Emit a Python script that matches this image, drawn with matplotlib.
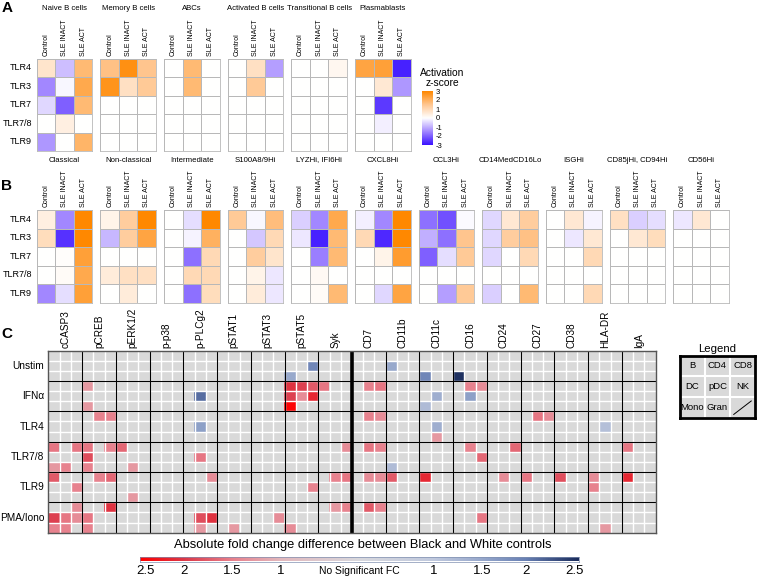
import matplotlib as mpl
mpl.use('agg')
import matplotlib.pyplot as plt
import numpy as np
from matplotlib.colors import LinearSegmentedColormap, to_rgb

plt.rcParams['font.family'] = ['Liberation Sans', 'DejaVu Sans']

W, H = 757, 578

# ---- panel A / B data ----
tlr_rows = ['TLR4', 'TLR3', 'TLR7', 'TLR7/8', 'TLR9']
groups = ['Control', 'SLE INACT', 'SLE ACT']

a_titles = ['Naive B cells', 'Memory B cells', 'ABCs', 'Activated B cells',
            'Transitional B cells', 'Plasmablasts']
a_scores = [
    [[0.7, -0.8, 1.8], [-1.5, -0.1, 2.2], [-0.5, -2.0, 1.8], [0, 0.4, 0], [-1.3, 0, 1.9]],
    [[1.6, 2.8, 1.5], [2.7, 0.8, 1.4], [0, 0, 0], [0, 0, 0], [0, 0, 0]],
    [[0, 1.8, 0], [0, 1.8, 0], [0, 0, 0], [0, 0, 0], [0, 0, 0]],
    [[0, 0.8, -1.2], [0, 1.4, 0], [0, 0, 0], [0, 0, 0], [0, 0, 0]],
    [[0, 0, 0.2], [0, 0, 0], [0, 0, 0], [0, 0, 0], [0, 0, 0]],
    [[2.3, 2.4, -2.8], [0, 0.6, -1.3], [0, -2.5, 0], [0, -0.2, 0], [0, 0, 0]],
]

b_titles = ['Classical', 'Non-classical', 'Intermediate', 'S100A8/9Hi', 'LYZHi, IFI6Hi',
            'CXCL8Hi', 'CCL3Hi', 'CD14MedCD16Lo', 'ISGHi', 'CD85jHi, CD94Hi', 'CD56Hi']
b_scores = [
    [[0.4, -1.5, 3], [0.9, -2.6, 3], [0, 0.05, 2.4], [0, 0.1, 2.2], [-1.5, -0.4, 2.4]],
    [[0.3, 1.3, 3], [-0.9, 1.3, 2.3], [0, 0, 0], [0.5, 0.8, 0.8], [0, 0.5, 0]],
    [[0, -0.4, 3], [0, -0.15, 2.0], [0, -1.8, 1.0], [0, 1.0, 1.0], [0, -1.8, 0.9]],
    [[1.4, -0.1, 1.7], [0, -0.7, 1.0], [0, 1.3, 0.7], [0, 0.3, -0.3], [0, 0.5, -0.3]],
    [[-0.6, -1.5, 2.2], [-0.3, -2.8, 1.8], [0, -1.6, 1.8], [0, 0.15, 0], [0, 0.1, 1.8]],
    [[-0.2, -1.5, 3], [1.0, -2.7, 3], [0, 0.3, 2.5], [0, 0, 0], [0, -0.5, 2.3]],
    [[-1.8, -2.2, -0.05], [-1.0, -1.8, 1.5], [-2.0, -0.4, 1.4], [0, 0, 0], [0, -1.2, 1.4]],
    [[-0.5, 0.6, 1.3], [-0.5, 1.3, 1.6], [-0.5, 0, 1.0], [0, 0, 0], [-0.6, 0, 1.8]],
    [[0, 0.6, -0.15], [0, -0.3, 0.6], [0, 0, 1.0], [0, 0, 0], [0, 0, 1.0]],
    [[0.8, -0.6, -0.4], [0, 0.6, 0.9], [0, 0, 0], [0, 0, 0], [0, 0, 0]],
    [[-0.3, 0.6, 0], [0, 0, 0], [0, 0, 0], [0, 0, 0], [0, 0, 0]],
]
z_ticks = [3, 2, 1, 0, -1, -2, -3]

# ---- panel C data ----
markers = ['cCASP3', 'pCREB', 'pERK1/2', 'p-p38', 'p-PLCg2', 'pSTAT1', 'pSTAT3',
           'pSTAT5', 'Syk', 'CD7', 'CD11b', 'CD11c', 'CD16', 'CD24', 'CD27', 'CD38',
           'HLA-DR', 'IgA']
stims = ['Unstim', 'IFN\u03b1', 'TLR4', 'TLR7/8', 'TLR9', 'PMA/Iono']
legend_cells = ['B', 'CD4', 'CD8', 'DC', 'pDC', 'NK', 'Mono', 'Gran', '']
# significant cells: row, column, fold change (+ red side, - blue side)
c_row = [1, 1,
         2, 2, 2,
         3, 3, 3, 3, 3, 3, 3, 3, 3,
         4, 4, 4, 4, 4, 4,
         5, 5, 5,
         6, 6, 6, 6, 6, 6,
         7, 7, 7,
         8,
         9, 9, 9, 9, 9, 9, 9, 9, 9, 9, 9,
         10, 10, 10,
         11, 11, 11, 11, 11,
         12, 12, 12, 12, 12, 12, 12, 12, 12, 12, 12, 12, 12, 12, 12,
         13, 13, 13,
         14,
         15, 15, 15, 15, 15, 15,
         16, 16, 16, 16, 16, 16, 16, 16,
         17, 17, 17, 17, 17, 17, 17]
c_col = [23, 30,
         21, 33, 36,
         3, 21, 22, 23, 24, 28, 29, 37, 38,
         13, 21, 22, 23, 34, 37,
         3, 21, 33,
         4, 5, 28, 29, 43, 44,
         13, 34, 49,
         34,
         0, 2, 3, 5, 6, 26, 28, 29, 37, 41, 51,
         3, 13, 38,
         0, 1, 3, 7, 30,
         0, 4, 5, 14, 25, 26, 28, 29, 30, 33, 40, 42, 45, 48, 51,
         2, 23, 48,
         7,
         2, 5, 25, 26, 28, 29,
         0, 1, 2, 3, 13, 14, 20, 38,
         0, 1, 3, 13, 16, 21, 49]
c_val = [-1.9, -1.5,
         -1.5, -1.9, -2.5,
         1.3, 2.1, 2.0, 1.8, 1.6, 1.5, 1.6, 1.5, 1.4,
         -2.1, 2.0, 1.4, 2.2, -1.4, -1.6,
         1.3, 2.5, -1.2,
         1.5, 1.5, 1.5, 1.4, 1.6, 1.4,
         -1.6, -1.4, -1.15,
         1.3,
         1.6, 1.6, 1.6, 1.5, 1.7, 1.4, 1.6, 1.5, 1.5, 1.7, 1.6,
         1.9, 1.6, 1.7,
         1.3, 1.5, 1.5, 1.3, -1.2,
         1.8, 1.5, 1.7, 1.4, 1.5, 1.6, 1.4, 1.4, 1.8, 2.2, 1.4, 1.6, 1.9, 1.4, 2.2,
         1.5, 1.5, 1.5,
         1.3,
         1.4, 2.1, 1.3, 1.5, 1.8, 1.5,
         2.0, 1.6, 1.4, 1.6, 1.9, 2.1, 1.4, 1.6,
         1.5, 1.5, 1.5, 1.3, 1.3, 1.4, 1.3]
fc_labels = ['2.5', '2', '1.5', '1', 'No Significant FC', '1', '1.5', '2', '2.5']
fc_pos = [0.012, 0.10, 0.21, 0.32, 0.50, 0.67, 0.78, 0.88, 0.99]

# ---- colour maps ----
cmap_z = LinearSegmentedColormap.from_list(
    'z', [(0, '#3a12ff'), (0.25, '#a287ff'), (0.5, '#ffffff'),
          (0.75, '#ffc690'), (1, '#ff8800')])
cmap_fc = LinearSegmentedColormap.from_list(
    'fc', [(0, '#ff0000'), (0.10, '#dc3848'), (0.21, '#e8808c'), (0.32, '#e2b8bd'),
           (0.5, '#d8d8dd'), (0.67, '#c0c9de'), (0.78, '#97a8cc'), (0.88, '#6880b4'),
           (1, '#1a2c5c')])
no_sig = '#d9d9d9'

fig = plt.figure(figsize=(W / 100, H / 100), dpi=100)


def px_ax(x, y, w, h):
    return fig.add_axes([x / W, 1 - (y + h) / H, w / W, h / H])


def ftext(x, y, s, **kw):
    return fig.text(x / W, 1 - y / H, s, **kw)


def heat_row(scores, titles, top, title_y, step=63.65, x0=36.7, w=55.7, h=92.5):
    for i, (vals, title) in enumerate(zip(scores, titles)):
        left = x0 + i * step
        ax = px_ax(left, top, w, h)
        ax.pcolormesh(np.array(vals), cmap=cmap_z, vmin=-3, vmax=3,
                      edgecolors='#b8b8b8', linewidth=0.6)
        ax.set_xlim(0, 3)
        ax.set_ylim(5, 0)
        ax.set_xticks([])
        ax.set_yticks([])
        for s in ax.spines.values():
            s.set_color('#b8b8b8')
            s.set_linewidth(0.6)
        ftext(left + w / 2, title_y, title, fontsize=5.6, ha='center', va='baseline')
        for j, g in enumerate(groups):
            ftext(left + (j + 0.5) * w / 3, top - 3, g, fontsize=5, rotation=90,
                  ha='center', va='bottom')
        if i == 0:
            for r, lab in enumerate(tlr_rows):
                ftext(left - 4.5, top + (r + 0.5) * h / 5, lab, fontsize=6.5,
                      ha='right', va='center')


# panel A
heat_row(a_scores, a_titles, 58.5, 10.5)
cax = px_ax(422, 91, 10.5, 54)
cax.imshow(np.linspace(-3, 3, 256).reshape(-1, 1), cmap=cmap_z, aspect='auto',
           origin='lower', extent=[0, 1, -3, 3])
cax.set_xticks([])
cax.set_yticks(z_ticks)
cax.set_yticklabels([str(t) for t in z_ticks], fontsize=5.5)
cax.yaxis.tick_right()
cax.tick_params(length=0, pad=2)
for s in cax.spines.values():
    s.set_visible(False)
ftext(442, 78, 'Activation\nz-score', fontsize=7.4, ha='center', va='center',
      linespacing=1.1)

# panel B
heat_row(b_scores, b_titles, 210, 161.5)

# panel C grid
n_col, n_row = 3 * len(markers), 3 * len(stims)
img = np.tile(np.array(to_rgb(no_sig)), (n_row, n_col, 1))
for r, c, v in zip(c_row, c_col, c_val):
    t = 0.32 - (abs(v) - 1) / 1.5 * 0.31 if v > 0 else 0.67 + (abs(v) - 1) / 1.5 * 0.32
    img[r, c] = cmap_fc(t)[:3]

gx, gy, gw, gh = 48.3, 350.7, 607.4, 182
ax = px_ax(gx, gy, gw, gh)
ax.imshow(img, aspect='auto', interpolation='nearest', extent=[0, n_col, n_row, 0])
for k in range(1, n_col):
    ax.axvline(k, color='white', lw=1.0)
for k in range(1, n_row):
    ax.axhline(k, color='white', lw=1.0)
for k in range(3, n_col, 3):
    ax.axvline(k, color='black', lw=2.6 if k == 27 else 0.8)
for k in range(3, n_row, 3):
    ax.axhline(k, color='black', lw=0.8)
ax.set_xlim(0, n_col)
ax.set_ylim(n_row, 0)
ax.set_xticks([])
ax.set_yticks([])
for s in ax.spines.values():
    s.set_color('#555555')
    s.set_linewidth(1)
for m, name in enumerate(markers):
    ax.text(3 * m + 1.5, -0.25, name, rotation=90, ha='center', va='bottom', fontsize=7.2)
for g, name in enumerate(stims):
    ax.text(-0.35, 3 * g + 1.5, name, ha='right', va='center', fontsize=7.3)

# legend box
lax = px_ax(680, 355.5, 75, 62)
lax.imshow(np.tile(np.array(to_rgb(no_sig)), (3, 3, 1)), aspect='auto',
           extent=[0, 3, 3, 0])
for k in (1, 2):
    lax.axvline(k, color='white', lw=1.5)
    lax.axhline(k, color='white', lw=1.5)
for i, lab in enumerate(legend_cells):
    lax.text(i % 3 + 0.5, i // 3 + 0.5, lab, ha='center', va='center', fontsize=6.8)
lax.plot([2.15, 2.85], [2.85, 2.2], color='black', lw=0.7)
lax.set_xlim(0, 3)
lax.set_ylim(3, 0)
lax.set_xticks([])
lax.set_yticks([])
for s in lax.spines.values():
    s.set_linewidth(2)
ftext(717, 349, 'Legend', fontsize=8.2, ha='center', va='center')

# fold change colour bar
bx, bw = 140, 439
bax = px_ax(bx, 556.5, bw, 5)
bax.imshow(np.linspace(0, 1, 512).reshape(1, -1), cmap=cmap_fc, aspect='auto',
           extent=[0, 1, 0, 1])
bax.set_xticks([])
bax.set_yticks([])
for s in bax.spines.values():
    s.set_color('#8090b0')
    s.set_linewidth(0.5)
for i, (p, lab) in enumerate(zip(fc_pos, fc_labels)):
    ftext(bx + p * bw, 571.5, lab, fontsize=7.5 if i == 4 else 9.5,
          ha='center', va='center')
ftext(363, 545, 'Absolute fold change difference between Black and White controls',
      fontsize=9.3, ha='center', va='center')

# panel letters
for lab, y in (('A', 8), ('B', 186), ('C', 334)):
    ftext(1.5, y, lab, fontsize=11, fontweight='bold', va='center', ha='left')

fig.savefig('out.png', dpi=100)
